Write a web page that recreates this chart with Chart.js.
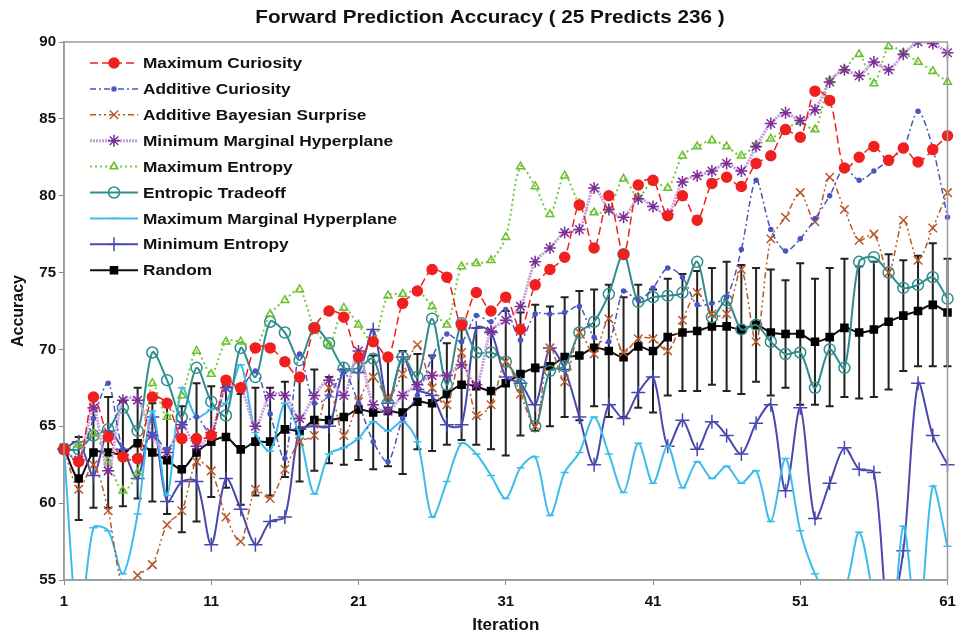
<!DOCTYPE html>
<html>
<head>
<meta charset="utf-8">
<title>Forward Prediction Accuracy</title>
<script src="https://cdn.jsdelivr.net/npm/chart.js@4.4.1/dist/chart.umd.min.js"></script>
<style>
  html, body { margin: 0; padding: 0; background: #fff; }
  #wrap { width: 956px; height: 636px; }
</style>
</head>
<body>
<div id="wrap"><canvas id="accuracyChart" width="956" height="636"></canvas></div>
<script>
// iterations 1..61
const iterations = [];
for (let i = 1; i <= 61; i++) iterations.push(i);
const xTickLabels = [1, 11, 21, 31, 41, 51, 61];
const yTickLabels = [55, 60, 65, 70, 75, 80, 85, 90];
const chartTitle = "Forward Prediction Accuracy ( 25 Predicts 236 )";

const maximumCuriosity = [63.5, 62.7, 66.9, 64.3, 63.0, 62.9, 66.9, 66.5, 64.2, 64.2,
    64.4, 68.0, 67.5, 70.1, 70.1, 69.2, 68.2, 71.4, 72.5, 72.1,
    69.5, 70.5, 69.5, 73.0, 73.8, 75.2, 74.7, 71.6, 73.7, 72.5,
    73.4, 71.3, 74.2, 75.2, 76.0, 79.4, 76.6, 80.0, 76.2, 80.7,
    81.0, 78.7, 80.0, 78.4, 80.8, 81.2, 80.6, 82.1, 82.6, 84.3,
    83.8, 86.8, 86.2, 81.8, 82.5, 83.2, 82.3, 83.1, 82.2, 83.0, 83.9];

const additiveCuriosity = [63.5, 62.8, 65.5, 67.8, 63.5, 63.0, 64.5, 63.5, 65.0, 65.6,
    64.5, 67.5, 67.5, 68.6, 65.8, 62.9, 69.7, 66.5, 67.0, 68.5,
    66.5, 64.0, 62.7, 65.5, 67.0, 69.5, 71.0, 70.5, 72.2, 71.8,
    72.6, 70.6, 72.3, 72.3, 72.4, 72.8, 70.8, 70.5, 73.8, 73.2,
    74.0, 75.3, 74.7, 72.9, 73.0, 73.4, 76.5, 81.0, 77.8, 76.4,
    77.2, 78.5, 80.0, 81.8, 81.0, 81.6, 82.3, 83.1, 85.5, 83.1, 78.6];

const additiveBayesianSurprise = [63.5, 60.9, 62.5, 59.5, 54.6, 55.3, 56.0, 58.6, 59.5, 62.7,
    62.1, 59.1, 57.5, 60.9, 60.3, 62.2, 64.0, 64.4, 67.5, 64.4,
    66.6, 68.2, 66.9, 68.4, 70.3, 67.5, 66.4, 69.8, 65.7, 66.4,
    69.2, 67.1, 65.0, 70.1, 67.9, 71.1, 69.7, 72.0, 69.8, 70.7,
    70.7, 69.9, 71.9, 73.7, 72.3, 72.3, 75.2, 70.5, 77.2, 78.6,
    80.2, 78.3, 81.2, 79.1, 77.1, 77.5, 75.0, 78.4, 75.8, 77.9, 80.2];

const minimumMarginalHyperplane = [63.5, 62.8, 66.2, 62.1, 66.7, 66.7, 64.4, 63.3, 65.1, 63.7,
    64.6, 67.5, 67.5, 65.0, 67.0, 67.0, 65.5, 67.0, 68.0, 67.0,
    69.9, 66.4, 66.0, 67.0, 67.7, 68.3, 68.3, 69.0, 67.7, 71.2,
    71.9, 72.8, 75.7, 76.6, 77.6, 77.8, 80.5, 79.1, 78.6, 79.8,
    79.3, 78.8, 80.9, 81.3, 81.6, 82.1, 81.6, 83.2, 84.7, 85.4,
    84.9, 85.6, 87.4, 88.2, 87.8, 88.7, 88.2, 89.2, 90.0, 89.9, 89.3];

const maximumEntropy = [63.5, 63.8, 64.5, 62.7, 60.8, 62.0, 67.8, 65.6, 67.0, 69.9,
    68.4, 70.5, 70.5, 70.1, 72.3, 73.2, 73.9, 71.4, 70.3, 72.7,
    71.6, 70.5, 73.5, 73.6, 73.8, 72.8, 71.6, 75.4, 75.6, 75.8,
    77.3, 81.9, 80.6, 78.8, 81.3, 79.5, 78.9, 79.1, 81.1, 79.9,
    81.0, 80.5, 82.6, 83.2, 83.6, 83.2, 82.6, 83.3, 83.7, 84.3,
    84.8, 84.3, 87.5, 88.2, 89.2, 87.3, 89.7, 89.3, 88.7, 88.1, 87.4];

const entropicTradeoff = [63.5, 63.5, 64.4, 64.8, 66.2, 64.7, 69.8, 68.0, 65.6, 68.8,
    66.6, 65.7, 70.1, 68.2, 71.8, 71.1, 69.3, 71.4, 70.4, 68.8,
    68.8, 69.4, 66.5, 69.5, 68.2, 72.0, 67.7, 71.7, 69.8, 69.8,
    69.2, 67.7, 65.0, 68.6, 68.9, 71.1, 71.8, 73.6, 76.2, 73.1,
    73.4, 73.5, 73.7, 75.7, 72.1, 73.2, 71.3, 71.6, 70.5, 69.7,
    69.8, 67.5, 70.0, 68.8, 75.7, 76.0, 75.0, 74.0, 74.2, 74.7, 73.3];

const maximumMarginalHyperplane = [63.5, 51.5, 58.4, 58.2, 55.4, 59.3, 66.0, 60.5, 67.5, 65.6,
    66.1, 66.5, 69.0, 64.6, 63.4, 66.5, 64.4, 60.6, 63.2, 63.6,
    64.2, 65.3, 64.7, 65.3, 64.0, 59.1, 61.4, 63.9, 63.2, 61.8,
    60.3, 62.3, 63.0, 59.2, 62.0, 63.3, 65.6, 63.2, 60.7, 63.9,
    61.3, 63.7, 61.0, 62.7, 61.6, 62.4, 61.3, 62.1, 58.8, 62.9,
    58.2, 55.4, 54.0, 54.3, 58.1, 53.7, 49.0, 58.5, 51.5, 61.1, 57.2];

const minimumEntropy = [63.5, 64.0, 61.8, 64.7, 63.5, 61.6, 65.6, 60.1, 61.4, 61.4,
    57.3, 61.6, 59.6, 57.3, 58.8, 59.1, 64.8, 65.0, 65.0, 68.7,
    68.5, 71.3, 66.5, 69.5, 67.4, 67.0, 65.1, 65.1, 71.4, 71.1,
    68.2, 67.8, 66.4, 70.1, 68.7, 65.6, 62.5, 66.4, 65.5, 67.2,
    68.2, 63.7, 65.4, 63.5, 65.3, 64.4, 63.2, 65.2, 66.4, 60.8,
    66.2, 59.0, 61.3, 63.6, 62.2, 62.0, 52.5, 56.9, 67.8, 64.4, 62.5];

const random = [63.6, 61.6, 63.3, 63.3, 63.2, 63.9, 63.3, 62.8, 62.2, 63.3,
    64.0, 64.3, 63.5, 64.0, 64.0, 64.8, 64.7, 65.4, 65.4, 65.6,
    66.1, 65.9, 66.0, 65.9, 66.6, 66.5, 67.1, 67.7, 67.6, 67.3,
    67.8, 68.4, 68.8, 68.9, 69.5, 69.6, 70.1, 69.9, 69.5, 70.2,
    69.9, 70.8, 71.1, 71.2, 71.5, 71.5, 71.3, 71.6, 71.1, 71.0,
    71.0, 70.5, 70.8, 71.4, 71.1, 71.3, 71.8, 72.2, 72.5, 72.9, 72.4];

// +/- spread of the random baseline
const randomError = [0, 2.7, 3.6, 3.6, 3.4, 3.6, 3.2, 3.5, 4.1, 4.5,
    3.6, 3.3, 3.6, 3.5, 3.5, 3.1, 3.3, 3.3, 2.8, 3.1,
    3.3, 3.7, 3.6, 4.0, 3.1, 3.1, 3.3, 3.6, 3.8, 3.8,
    4.7, 4.0, 4.1, 3.9, 3.9, 4.2, 3.8, 4.3, 3.9, 4.0,
    4.0, 3.8, 3.8, 3.9, 3.8, 4.2, 4.2, 3.7, 4.1, 3.5,
    4.6, 4.1, 4.5, 4.5, 4.3, 4.4, 4.4, 3.6, 3.6, 4.0, 3.5];

const seriesNames = ["Maximum Curiosity", "Additive Curiosity", "Additive Bayesian Surprise",
    "Minimum Marginal Hyperplane", "Maximum Entropy", "Entropic Tradeoff",
    "Maximum Marginal Hyperplane", "Minimum Entropy", "Random"];
const seriesData = [maximumCuriosity, additiveCuriosity, additiveBayesianSurprise,
    minimumMarginalHyperplane, maximumEntropy, entropicTradeoff,
    maximumMarginalHyperplane, minimumEntropy, random];

// look of each series, same order as names
const seriesStyles = [
    { line: "#f02020", width: 1.5, dash: [8, 4], point: "circle", r: 5, fill: "#f02020", edge: "#f02020" },
    { line: "#4a55c0", width: 1.5, dash: [6, 3, 2, 3], point: "circle", r: 2, fill: "#4a55c0", edge: "#4a55c0" },
    { line: "#b9582c", width: 1.5, dash: [6, 3, 2, 3, 2, 3], point: "crossRot", r: 6, fill: "#b9582c", edge: "#b9582c" },
    { line: "#c79ddb", width: 3, dash: [2, 1], point: "star", r: 6, fill: "#7a2e96", edge: "#7a2e96" },
    { line: "#76c83a", width: 2, dash: [2, 3], point: "triangle", r: 4.5, fill: "rgba(255,255,255,0)", edge: "#6cc030" },
    { line: "#2f8d8d", width: 2, dash: [], point: "circle", r: 5.5, fill: "rgba(255,255,255,0)", edge: "#2f8d8d" },
    { line: "#3cbcec", width: 2, dash: [], point: "line", r: 4, fill: "#3cbcec", edge: "#3cbcec" },
    { line: "#4848b0", width: 2, dash: [], point: "cross", r: 7, fill: "#4848b0", edge: "#4848b0" },
    { line: "#111111", width: 2, dash: [], point: "rect", r: 5, fill: "#000000", edge: "#000000" }
];

const fontFamily = "'Liberation Sans', Arial, Helvetica, sans-serif";
const textStretch = 1.15; // the reference lettering is a bit wide

const datasets = seriesNames.map((name, i) => {
    const s = seriesStyles[i];
    return {
        label: name,
        data: seriesData[i],
        borderColor: s.line,
        borderWidth: s.width,
        borderDash: s.dash,
        tension: 0.3,
        pointStyle: s.point,
        pointRadius: s.r,
        pointBackgroundColor: s.fill,
        pointBorderColor: s.edge,
        pointBorderWidth: 1.5,
        fill: false
    };
});

// error bars on the random baseline
const errorBarPlugin = {
    id: "errorBars",
    beforeDatasetsDraw(chart) {
        const idx = seriesNames.indexOf("Random");
        const meta = chart.getDatasetMeta(idx);
        const yScale = chart.scales.y;
        const ctx = chart.ctx;
        ctx.save();
        ctx.strokeStyle = "#222";
        ctx.lineWidth = 2;
        meta.data.forEach((pt, i) => {
            const err = randomError[i];
            if (!err) return;
            const top = yScale.getPixelForValue(random[i] + err);
            const bottom = yScale.getPixelForValue(random[i] - err);
            ctx.beginPath();
            ctx.moveTo(pt.x, top);
            ctx.lineTo(pt.x, bottom);
            ctx.moveTo(pt.x - 4, top);
            ctx.lineTo(pt.x + 4, top);
            ctx.moveTo(pt.x - 4, bottom);
            ctx.lineTo(pt.x + 4, bottom);
            ctx.stroke();
        });
        ctx.restore();
    }
};

function wideText(ctx, text, x, y) {
    ctx.save();
    ctx.translate(x, y);
    ctx.scale(textStretch, 1);
    ctx.fillText(text, 0, 0);
    ctx.restore();
}

// title, frame around the plot, and the legend inside it
const framePlugin = {
    id: "frameLegend",
    afterDraw(chart) {
        const { ctx, chartArea } = chart;
        ctx.save();
        ctx.strokeStyle = "#9a9a9a";
        ctx.lineWidth = 1.5;
        ctx.strokeRect(chartArea.left, chartArea.top, chartArea.right - chartArea.left, chartArea.bottom - chartArea.top);

        ctx.fillStyle = "#111";
        ctx.font = "bold 18px " + fontFamily;
        ctx.textAlign = "center";
        ctx.textBaseline = "middle";
        wideText(ctx, chartTitle, 490, 18);

        ctx.textAlign = "left";
        ctx.font = "bold 15px " + fontFamily;
        seriesNames.forEach((name, i) => {
            const s = seriesStyles[i];
            const y = 63 + i * 25.9;
            ctx.strokeStyle = s.line;
            ctx.lineWidth = s.width;
            ctx.setLineDash(s.dash);
            ctx.beginPath();
            ctx.moveTo(90, y);
            ctx.lineTo(138, y);
            ctx.stroke();
            ctx.setLineDash([]);
            ctx.fillStyle = s.fill;
            ctx.strokeStyle = s.edge;
            ctx.lineWidth = 1.5;
            if (Chart.helpers && Chart.helpers.drawPoint) {
                Chart.helpers.drawPoint(ctx, { pointStyle: s.point, radius: s.r, rotation: 0, borderWidth: 1.5 }, 114, y);
            }
            ctx.fillStyle = "#111";
            wideText(ctx, name, 143, y + 1);
        });
        ctx.restore();
    }
};

const chart = new Chart(document.getElementById("accuracyChart"), {
    type: "line",
    data: { labels: iterations, datasets: datasets },
    options: {
        responsive: false,
        animation: false,
        devicePixelRatio: 1,
        layout: { padding: { left: 0, right: 0, top: 42, bottom: 0 } },
        plugins: {
            legend: { display: false },
            tooltip: { enabled: false },
            title: { display: false }
        },
        scales: {
            x: {
                type: "category",
                offset: false,
                grid: { display: true, drawOnChartArea: false, tickLength: 5, color: "#888" },
                border: { display: true, color: "#9a9a9a", width: 1.5 },
                ticks: {
                    autoSkip: false,
                    maxRotation: 0,
                    padding: 8,
                    color: "#111",
                    font: { family: fontFamily, size: 15, weight: "bold" },
                    callback: function (value, index) {
                        const lab = iterations[index];
                        return xTickLabels.includes(lab) ? String(lab) : null;
                    }
                },
                title: {
                    display: true,
                    text: "Iteration",
                    color: "#111",
                    font: { family: fontFamily, size: 17, weight: "bold" },
                    padding: { top: 0, bottom: 0 }
                },
                afterFit: function (scale) {
                    scale.height = 56;
                    scale.paddingRight = 8;
                }
            },
            y: {
                min: yTickLabels[0],
                max: yTickLabels[yTickLabels.length - 1],
                grid: { display: true, drawOnChartArea: false, tickLength: 5, color: "#888" },
                border: { display: true, color: "#9a9a9a", width: 1.5 },
                ticks: {
                    stepSize: 5,
                    padding: 3,
                    color: "#111",
                    font: { family: fontFamily, size: 15, weight: "bold" }
                },
                title: {
                    display: true,
                    text: "Accuracy",
                    color: "#111",
                    font: { family: fontFamily, size: 16, weight: "bold" },
                    padding: { top: 9, bottom: 0 }
                },
                afterFit: function (scale) { scale.width = 64; }
            }
        }
    },
    plugins: [errorBarPlugin, framePlugin]
});
</script>
</body>
</html>
